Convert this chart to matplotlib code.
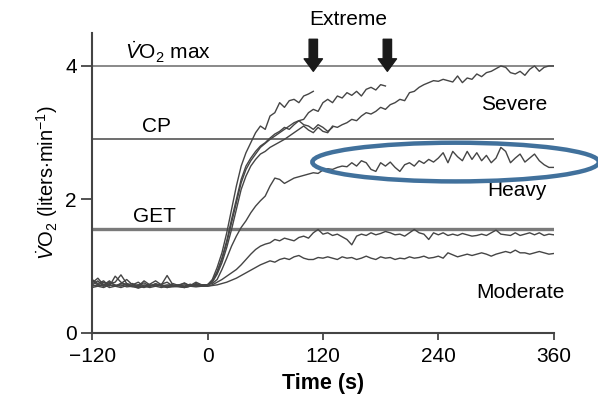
import numpy as np
import matplotlib
matplotlib.use('Agg')
import matplotlib.pyplot as plt
from matplotlib.patches import Ellipse, FancyArrowPatch

plt.rcParams['font.family'] = ['Liberation Sans', 'DejaVu Sans']
plt.rcParams['mathtext.fontset'] = 'custom'
plt.rcParams['mathtext.rm'] = 'Liberation Sans'
plt.rcParams['mathtext.it'] = 'Liberation Sans:italic'
plt.rcParams['mathtext.bf'] = 'Liberation Sans:bold'

# sampling grids (s)
t_base = np.arange(-120, 0, 6)
t_resp = np.arange(0, 365, 5)

# baseline (unloaded) VO2, liters/min
base_ext1 = [0.75, 0.82, 0.72, 0.78, 0.70, 0.74, 0.80, 0.72, 0.76, 0.70, 0.73, 0.78, 0.72, 0.70, 0.74, 0.71, 0.75, 0.70, 0.73, 0.72]
base_ext2 = [0.80, 0.74, 0.78, 0.70, 0.85, 0.76, 0.72, 0.74, 0.70, 0.78, 0.72, 0.70, 0.73, 0.76, 0.70, 0.72, 0.74, 0.71, 0.76, 0.72]
base_ext3 = [0.72, 0.78, 0.70, 0.74, 0.76, 0.87, 0.74, 0.70, 0.72, 0.75, 0.70, 0.73, 0.72, 0.86, 0.72, 0.71, 0.70, 0.73, 0.70, 0.72]
base_sev = [0.70, 0.72, 0.76, 0.72, 0.70, 0.74, 0.72, 0.70, 0.68, 0.72, 0.70, 0.74, 0.70, 0.72, 0.71, 0.70, 0.72, 0.70, 0.74, 0.71]
base_heavy = [0.78, 0.72, 0.70, 0.76, 0.72, 0.70, 0.74, 0.70, 0.72, 0.69, 0.70, 0.72, 0.70, 0.68, 0.70, 0.72, 0.69, 0.70, 0.71, 0.70]
base_modhi = [0.68, 0.70, 0.73, 0.68, 0.70, 0.72, 0.69, 0.70, 0.67, 0.70, 0.68, 0.70, 0.72, 0.68, 0.70, 0.69, 0.68, 0.70, 0.72, 0.70]
base_modlo = [0.72, 0.70, 0.68, 0.72, 0.70, 0.68, 0.71, 0.69, 0.70, 0.68, 0.72, 0.70, 0.68, 0.70, 0.69, 0.70, 0.68, 0.70, 0.69, 0.70]

# responses after onset, every 5 s from t = 0
resp_ext1 = [0.72, 0.80, 0.98, 1.20, 1.50, 1.85, 2.20, 2.50, 2.70, 2.85, 3.00, 3.10, 3.05, 3.25, 3.30, 3.45, 3.38, 3.48, 3.50, 3.45, 3.55, 3.58, 3.62]
resp_ext2 = [0.72, 0.78, 0.92, 1.12, 1.38, 1.70, 2.00, 2.30, 2.50, 2.62, 2.72, 2.80, 2.85, 2.92, 2.98, 3.02, 3.08, 3.05, 3.12, 3.18,
             3.20, 3.30, 3.35, 3.32, 3.45, 3.50, 3.45, 3.55, 3.52, 3.60, 3.56, 3.62, 3.55, 3.65, 3.68, 3.64, 3.72, 3.70]
resp_ext3 = [0.72, 0.77, 0.90, 1.10, 1.35, 1.65, 1.95, 2.25, 2.45, 2.58, 2.68, 2.78, 2.84, 2.90, 2.95, 3.00, 3.05, 3.10, 3.15, 3.18,
             3.12, 3.10, 3.05, 3.12, 3.08, 3.02, 3.08]
resp_sev = [0.72, 0.76, 0.88, 1.05, 1.28, 1.55, 1.85, 2.15, 2.35, 2.50, 2.60, 2.68, 2.72, 2.78, 2.82, 2.86, 2.90, 2.95, 3.00, 3.05,
            3.10, 3.04, 3.00, 3.08, 3.02, 3.00, 3.10, 3.08, 3.12, 3.15, 3.20, 3.18, 3.25, 3.30, 3.28, 3.32, 3.38, 3.35, 3.42, 3.45,
            3.50, 3.48, 3.60, 3.62, 3.68, 3.72, 3.75, 3.78, 3.77, 3.80, 3.78, 3.76, 3.85, 3.75, 3.82, 3.80, 3.88, 3.84, 3.90, 3.92,
            3.96, 4.00, 3.98, 3.90, 3.88, 3.92, 3.86, 3.95, 4.00, 3.92, 3.98, 4.00, 4.00]
resp_heavy = [0.72, 0.74, 0.80, 0.95, 1.12, 1.30, 1.45, 1.58, 1.68, 1.80, 1.90, 1.98, 2.05, 2.20, 2.32, 2.30, 2.24, 2.28, 2.32, 2.34,
              2.36, 2.38, 2.40, 2.39, 2.44, 2.46, 2.45, 2.48, 2.50, 2.49, 2.55, 2.50, 2.58, 2.55, 2.45, 2.42, 2.55, 2.50, 2.56, 2.48,
              2.42, 2.52, 2.55, 2.50, 2.58, 2.54, 2.60, 2.56, 2.62, 2.70, 2.55, 2.72, 2.64, 2.58, 2.72, 2.60, 2.70, 2.58, 2.66, 2.55,
              2.62, 2.78, 2.72, 2.55, 2.62, 2.68, 2.56, 2.62, 2.68, 2.58, 2.52, 2.48, 2.48]
resp_modhi = [0.70, 0.72, 0.76, 0.80, 0.85, 0.90, 0.95, 1.02, 1.10, 1.18, 1.25, 1.30, 1.33, 1.35, 1.40, 1.38, 1.42, 1.40, 1.38, 1.43,
              1.45, 1.42, 1.50, 1.55, 1.48, 1.50, 1.46, 1.48, 1.44, 1.40, 1.32, 1.45, 1.48, 1.46, 1.50, 1.47, 1.49, 1.52, 1.50, 1.47,
              1.48, 1.45, 1.50, 1.55, 1.50, 1.48, 1.40, 1.50, 1.47, 1.50, 1.46, 1.48, 1.46, 1.49, 1.47, 1.45, 1.46, 1.48, 1.46, 1.50,
              1.54, 1.48, 1.47, 1.46, 1.50, 1.46, 1.48, 1.50, 1.47, 1.50, 1.46, 1.48, 1.47]
resp_modlo = [0.70, 0.71, 0.72, 0.74, 0.76, 0.79, 0.82, 0.86, 0.90, 0.94, 0.98, 1.02, 1.05, 1.08, 1.06, 1.10, 1.12, 1.10, 1.14, 1.16,
              1.12, 1.10, 1.10, 1.13, 1.12, 1.14, 1.12, 1.10, 1.14, 1.12, 1.13, 1.10, 1.12, 1.15, 1.12, 1.10, 1.14, 1.12, 1.13, 1.10,
              1.12, 1.11, 1.14, 1.12, 1.13, 1.15, 1.12, 1.13, 1.15, 1.12, 1.20, 1.17, 1.14, 1.16, 1.18, 1.16, 1.18, 1.20, 1.18, 1.15,
              1.18, 1.20, 1.22, 1.20, 1.24, 1.20, 1.20, 1.18, 1.20, 1.22, 1.20, 1.18, 1.19]

curves = [(base_ext1, resp_ext1), (base_ext2, resp_ext2), (base_ext3, resp_ext3), (base_sev, resp_sev),
          (base_heavy, resp_heavy), (base_modhi, resp_modhi), (base_modlo, resp_modlo)]

# threshold lines
vo2max = 4.0
cp = 2.91
get = 1.56
arrow_times = [110, 187]

fig = plt.figure(figsize=(5.98, 4.05), dpi=100)
ax = fig.add_axes([0.154, 0.178, 0.772, 0.7415])

ax.axhline(vo2max, color='#808080', lw=1.3, zorder=1)
ax.axhline(cp, color='#555555', lw=1.2, zorder=1)
ax.axhline(get, color='#7a7a7a', lw=2.4, zorder=1)

for base, resp in curves:
    t = np.concatenate([t_base[:len(base)], t_resp[:len(resp)]])
    v = np.concatenate([base, resp])
    ax.plot(t, v, color='#454545', lw=1.0, zorder=2)

ax.set_xlim(-120, 360)
ax.set_ylim(0, 4.5)
ax.set_xticks([-120, 0, 120, 240, 360])
ax.set_yticks([0, 2, 4])
for s in ['top', 'right']:
    ax.spines[s].set_visible(False)
for s in ['left', 'bottom']:
    ax.spines[s].set_color('#444444')
    ax.spines[s].set_linewidth(1.5)
ax.tick_params(axis='x', direction='out', length=5, width=1.3, color='#444444', labelsize=15, pad=5)
ax.tick_params(axis='y', direction='out', length=8, width=1.3, color='#444444', labelsize=15, pad=3)

ax.set_xlabel('Time (s)', fontsize=15.5, fontweight='bold', labelpad=5)
ax.set_ylabel(r'$\dot{V}$O$_2$ (liters$\cdot$min$^{-1}$)', fontsize=14.5, labelpad=4)

ax.text(-86, 4.21, r'$\dot{V}$O$_2$ max', fontsize=15, va='center', ha='left')
ax.text(-68, 3.09, 'CP', fontsize=15, va='center', ha='left')
ax.text(-77, 1.75, 'GET', fontsize=15, va='center', ha='left')
ax.text(146, 4.69, 'Extreme', fontsize=15, va='center', ha='center')
ax.text(319, 3.43, 'Severe', fontsize=15, va='center', ha='center')
ax.text(322, 2.14, 'Heavy', fontsize=15, va='center', ha='center')
ax.text(325, 0.61, 'Moderate', fontsize=15, va='center', ha='center')

for ta in arrow_times:
    arr = FancyArrowPatch((ta, 4.40), (ta, 3.92),
                          arrowstyle='simple,head_length=0.75,head_width=1.1,tail_width=0.5',
                          mutation_scale=12, color='#1a1a1a', shrinkA=0, shrinkB=0,
                          clip_on=False, zorder=4)
    ax.add_patch(arr)

ell = Ellipse((258, 2.56), width=298, height=0.58, fill=False,
              edgecolor='#41719C', lw=3.2, clip_on=False, zorder=5)
ax.add_patch(ell)

fig.savefig('out.png', dpi=100, facecolor='white')
